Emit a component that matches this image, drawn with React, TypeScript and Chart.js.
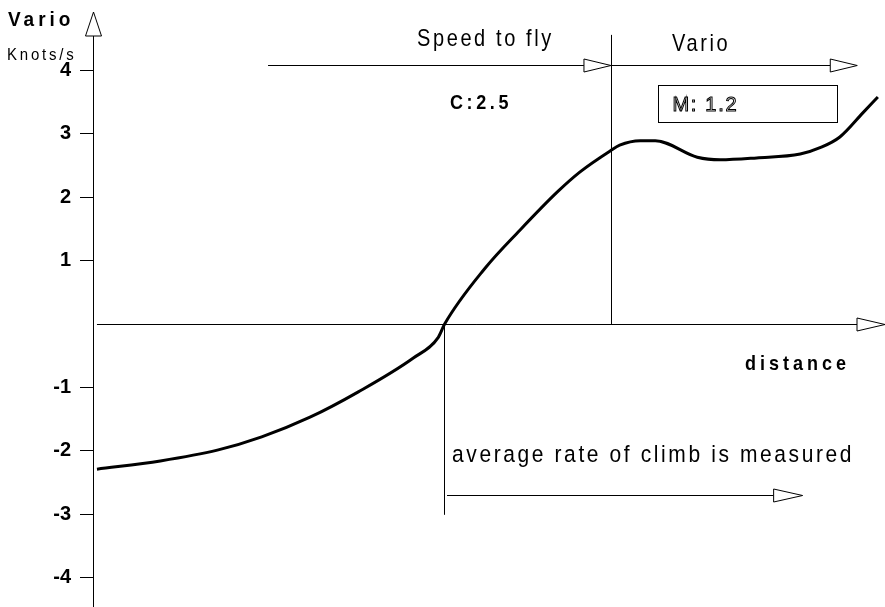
import { useEffect, useRef } from 'react';
import { Chart, registerables } from 'chart.js';

Chart.register(...registerables);

// distance (arbitrary units) and vario (knots/s)
const DISTANCE = [0.05, 0.85, 1.57, 2.13, 2.74, 3.35, 4.04, 4.36, 4.44, 4.95, 5.39, 5.86, 6.15, 6.53, 6.65, 6.91, 7.10, 7.63, 7.92, 8.38, 8.93, 9.18, 9.43, 9.72, 9.91];
const VARIO = [-2.29, -2.16, -1.99, -1.78, -1.47, -1.07, -0.54, -0.21, 0, 0.88, 1.48, 2.08, 2.40, 2.73, 2.82, 2.89, 2.89, 2.63, 2.59, 2.62, 2.68, 2.78, 2.95, 3.33, 3.58];
const Y_TICKS = [4, 3, 2, 1, -1, -2, -3, -4];

// annotation anchors in data units
const ZERO_AXIS_START = 0.05;
const SPLIT_X = 6.54;
const SPLIT_TOP = 4.56;
const TOP_ARROW_Y = 4.085;
const TOP_ARROW_START = 2.21;
const TOP_ARROW_END = 9.65;
const CLIMB_X = 4.43;
const CLIMB_BOTTOM = -3.01;
const CLIMB_ARROW_Y = -2.7;
const CLIMB_ARROW_START = 4.47;
const CLIMB_ARROW_END = 8.96;
const BOX_X = [7.13, 9.39];
const BOX_Y = [3.77, 3.19];

const FONT = '"Liberation Sans", Arial, Helvetica, sans-serif';

function drawText(ctx: CanvasRenderingContext2D, text: string, x: number, y: number, font: string, spacing: number, sy: number, stroke = false) {
  ctx.save();
  ctx.translate(x, y);
  ctx.scale(1, sy);
  ctx.font = font;
  (ctx as any).letterSpacing = spacing + 'px';
  ctx.textAlign = 'left';
  ctx.textBaseline = 'alphabetic';
  if (stroke) {
    ctx.lineWidth = 1;
    ctx.strokeStyle = '#000';
    ctx.strokeText(text, 0, 0);
  } else {
    ctx.fillStyle = '#000';
    ctx.fillText(text, 0, 0);
  }
  ctx.restore();
}

function hArrow(ctx: CanvasRenderingContext2D, x1: number, y: number, x2: number, head = 27, half = 6.5) {
  const yy = Math.round(y) + 0.5;
  ctx.beginPath();
  ctx.moveTo(x1, yy);
  ctx.lineTo(x2 - head, yy);
  ctx.stroke();
  ctx.beginPath();
  ctx.moveTo(x2 - head, yy - half);
  ctx.lineTo(x2, yy);
  ctx.lineTo(x2 - head, yy + half);
  ctx.closePath();
  ctx.fillStyle = '#fff';
  ctx.fill();
  ctx.stroke();
}

function vLine(ctx: CanvasRenderingContext2D, x: number, y1: number, y2: number) {
  const xx = Math.round(x) + 0.5;
  ctx.beginPath();
  ctx.moveTo(xx, y1);
  ctx.lineTo(xx, y2);
  ctx.stroke();
}

const annotations = {
  id: 'annotations',
  beforeDatasetsDraw(chart: any) {
    const ctx: CanvasRenderingContext2D = chart.ctx;
    const xs = chart.scales.x;
    const ys = chart.scales.y;
    const px = (v: number) => xs.getPixelForValue(v);
    const py = (v: number) => ys.getPixelForValue(v);
    ctx.save();
    ctx.strokeStyle = '#000';
    ctx.lineWidth = 1;

    // y axis arrow head
    const ax = Math.round(xs.left) + 0.5;
    const top = chart.chartArea.top;
    ctx.beginPath();
    ctx.moveTo(ax - 8, top + 24);
    ctx.lineTo(ax, top);
    ctx.lineTo(ax + 8, top + 24);
    ctx.closePath();
    ctx.fillStyle = '#fff';
    ctx.fill();
    ctx.stroke();

    // zero axis with arrow
    hArrow(ctx, px(ZERO_AXIS_START), py(0), xs.right, 28, 6.5);

    // split vertical line
    vLine(ctx, px(SPLIT_X), py(SPLIT_TOP), py(0));
    // top arrows
    hArrow(ctx, px(TOP_ARROW_START), py(TOP_ARROW_Y), px(SPLIT_X), 27, 6.5);
    hArrow(ctx, px(SPLIT_X), py(TOP_ARROW_Y), px(TOP_ARROW_END), 27, 6.5);

    // climb vertical line and arrow
    vLine(ctx, px(CLIMB_X), py(0), py(CLIMB_BOTTOM));
    hArrow(ctx, px(CLIMB_ARROW_START), py(CLIMB_ARROW_Y), px(CLIMB_ARROW_END), 29, 6.5);

    // box
    const bx1 = Math.round(px(BOX_X[0])) + 0.5;
    const bx2 = Math.round(px(BOX_X[1])) + 0.5;
    const by1 = Math.round(py(BOX_Y[0])) + 0.5;
    const by2 = Math.round(py(BOX_Y[1])) + 0.5;
    ctx.strokeRect(bx1, by1, bx2 - bx1, by2 - by1);
    ctx.restore();

    // texts
    drawText(ctx, 'Vario', 8, 26, `bold 19px ${FONT}`, 4, 1.05);
    drawText(ctx, 'Knots/s', 7, 60, `15px ${FONT}`, 2.8, 1.05);
    drawText(ctx, 'Speed to fly', 417, 46, `20px ${FONT}`, 2.6, 1.18);
    drawText(ctx, 'Vario', 672, 51, `20px ${FONT}`, 2.6, 1.18);
    drawText(ctx, 'C:2.5', 450, 109, `bold 18px ${FONT}`, 3.6, 1.15);
    drawText(ctx, 'M: 1.2', bx1 + 14, 111, `20px ${FONT}`, 1.7, 1.05, true);
    drawText(ctx, 'distance', 745, 370, `bold 18px ${FONT}`, 4, 1.15);
    drawText(ctx, 'average rate of climb is measured', 452, 462, `21px ${FONT}`, 2.6, 1.12);
  },
};

export default function App() {
  const ref = useRef<HTMLCanvasElement | null>(null);
  useEffect(() => {
    if (!ref.current) return;
    const chart = new Chart(ref.current, {
      type: 'line',
      data: {
        datasets: [
          {
            data: DISTANCE.map((d, i) => ({ x: d, y: VARIO[i] })),
            borderColor: '#000',
            borderWidth: 3,
            pointRadius: 0,
            cubicInterpolationMode: 'monotone',
            fill: false,
          },
        ],
      },
      options: {
        animation: false,
        responsive: false,
        devicePixelRatio: 1,
        layout: { padding: { top: 12, bottom: 0, left: 0, right: 0 } },
        plugins: { legend: { display: false }, tooltip: { enabled: false }, title: { display: false } },
        scales: {
          x: { type: 'linear', min: 0, max: 10, display: false },
          y: {
            type: 'linear',
            min: -4.464,
            max: 4.921,
            afterBuildTicks: (s: any) => {
              s.ticks = Y_TICKS.map((v) => ({ value: v }));
            },
            afterFit: (s: any) => {
              s.width = 93;
              s.paddingTop = 0;
              s.paddingBottom = 0;
            },
            grid: { drawOnChartArea: false, color: '#000', tickLength: 13, lineWidth: 1 },
            border: { color: '#000', width: 1 },
            ticks: {
              color: '#000',
              padding: 9,
              font: { family: FONT, size: 20, weight: 'bold' },
              callback: (v: any) => String(v),
            },
          },
        },
      },
      plugins: [annotations],
    } as any);
    return () => chart.destroy();
  }, []);
  return (
    <div style={{ position: 'fixed', left: 0, top: 0, width: 885, height: 607, background: '#fff' }}>
      <canvas ref={ref} width={885} height={607} style={{ display: 'block', width: 885, height: 607 }} />
    </div>
  );
}
